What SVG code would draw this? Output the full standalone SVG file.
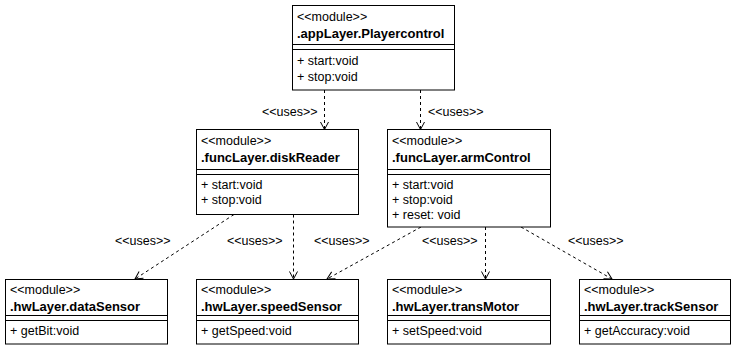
<svg xmlns="http://www.w3.org/2000/svg" width="733" height="346" viewBox="0 0 733 346">
<style>
text{font-family:"Liberation Sans",Arial,sans-serif;font-size:12.5px;fill:#000}
.b{font-weight:bold;font-size:13px}
.box{fill:#fff;stroke:#000;stroke-width:1}
.sep{stroke:#000;stroke-width:1;fill:none}
.edge{stroke:#000;stroke-width:1;fill:none;stroke-dasharray:3 3}
</style>
<defs>
<marker id="open" viewBox="-9 -6 11 12" markerWidth="11" markerHeight="12" refX="0" refY="0" orient="auto" markerUnits="userSpaceOnUse">
<path d="M-7.5,-4 L0,0 L-7.5,4" fill="none" stroke="#000" stroke-width="1"/>
</marker>
</defs>
<g id="connectors">
<line class="edge" x1="324.5" y1="90" x2="324.5" y2="129.5" marker-end="url(#open)"/>
<text x="262" y="116">&lt;&lt;uses&gt;&gt;</text>
<line class="edge" x1="420.5" y1="90" x2="420.5" y2="129.5" marker-end="url(#open)"/>
<text x="428" y="116">&lt;&lt;uses&gt;&gt;</text>
<line class="edge" x1="234" y1="214.5" x2="135" y2="279" marker-end="url(#open)"/>
<text x="115" y="245">&lt;&lt;uses&gt;&gt;</text>
<line class="edge" x1="293.5" y1="214.5" x2="293.5" y2="279" marker-end="url(#open)"/>
<text x="227" y="245">&lt;&lt;uses&gt;&gt;</text>
<line class="edge" x1="421" y1="227" x2="327" y2="279" marker-end="url(#open)"/>
<text x="314" y="245">&lt;&lt;uses&gt;&gt;</text>
<line class="edge" x1="485.5" y1="227" x2="485.5" y2="279" marker-end="url(#open)"/>
<text x="422" y="245">&lt;&lt;uses&gt;&gt;</text>
<line class="edge" x1="521" y1="227" x2="612" y2="279" marker-end="url(#open)"/>
<text x="568" y="245">&lt;&lt;uses&gt;&gt;</text>
</g>
<g id="playercontrol">
<rect class="box" x="292.5" y="5.5" width="162" height="84.5"/>
<text x="297" y="21">&lt;&lt;module&gt;&gt;</text>
<text class="b" x="297" y="37.5">.appLayer.Playercontrol</text>
<path class="sep" d="M292.5,44.5H454.5M292.5,49.5H454.5"/>
<text x="297" y="65">+ start:void</text>
<text x="297" y="80.5">+ stop:void</text>
</g>
<g id="diskReader">
<rect class="box" x="196.5" y="129.5" width="162" height="85"/>
<text x="201" y="145">&lt;&lt;module&gt;&gt;</text>
<text class="b" x="201" y="162">.funcLayer.diskReader</text>
<path class="sep" d="M196.5,169.5H358.5M196.5,174.5H358.5"/>
<text x="201" y="189">+ start:void</text>
<text x="201" y="204">+ stop:void</text>
</g>
<g id="armControl">
<rect class="box" x="387.5" y="129.5" width="163" height="97.5"/>
<text x="392" y="145">&lt;&lt;module&gt;&gt;</text>
<text class="b" x="392" y="162">.funcLayer.armControl</text>
<path class="sep" d="M387.5,169.5H550.5M387.5,174.5H550.5"/>
<text x="392" y="189">+ start:void</text>
<text x="392" y="204">+ stop:void</text>
<text x="392" y="219">+ reset: void</text>
</g>
<g id="dataSensor">
<rect class="box" x="5.5" y="279.5" width="162" height="64.5"/>
<text x="10" y="294">&lt;&lt;module&gt;&gt;</text>
<text class="b" x="10" y="310.5">.hwLayer.dataSensor</text>
<path class="sep" d="M5.5,315.5H167.5M5.5,320.5H167.5"/>
<text x="10" y="335">+ getBit:void</text>
</g>
<g id="speedSensor">
<rect class="box" x="196.5" y="279.5" width="162" height="64.5"/>
<text x="201" y="294">&lt;&lt;module&gt;&gt;</text>
<text class="b" x="201" y="310.5">.hwLayer.speedSensor</text>
<path class="sep" d="M196.5,315.5H358.5M196.5,320.5H358.5"/>
<text x="201" y="335">+ getSpeed:void</text>
</g>
<g id="transMotor">
<rect class="box" x="387.5" y="279.5" width="163" height="64.5"/>
<text x="392" y="294">&lt;&lt;module&gt;&gt;</text>
<text class="b" x="392" y="310.5">.hwLayer.transMotor</text>
<path class="sep" d="M387.5,315.5H550.5M387.5,320.5H550.5"/>
<text x="392" y="335">+ setSpeed:void</text>
</g>
<g id="trackSensor">
<rect class="box" x="579.5" y="279.5" width="151" height="64.5"/>
<text x="584" y="294">&lt;&lt;module&gt;&gt;</text>
<text class="b" x="584" y="310.5">.hwLayer.trackSensor</text>
<path class="sep" d="M579.5,315.5H730.5M579.5,320.5H730.5"/>
<text x="584" y="335">+ getAccuracy:void</text>
</g>
</svg>
